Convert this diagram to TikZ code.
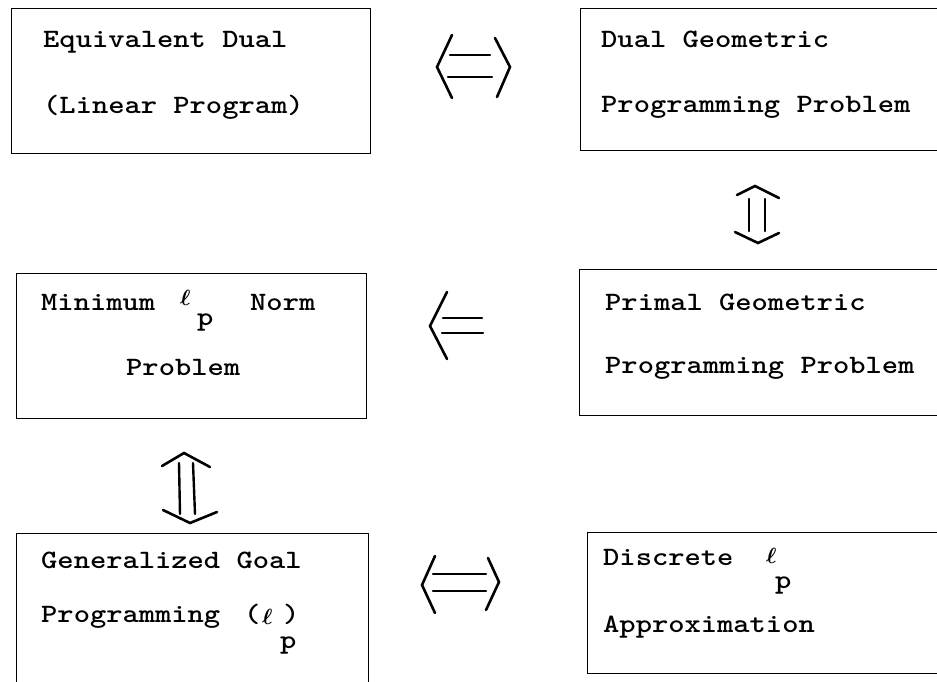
\documentclass[tikz,border=0pt]{standalone}
\usepackage{fontspec}
\usepackage{graphicx}
% typewriter text, widened to the pitch of the original typescript
\newcommand{\tw}[1]{\scalebox{1.17}[1]{#1}}
% script ell used in the l_p labels
\newcommand{\ellp}{\scalebox{2.2}{\boldmath$\ell$}}
\tikzset{
  box/.style={draw, line width=1.2pt, inner sep=0pt, anchor=north west},
  txt/.style={anchor=base west, inner sep=0pt, font=\ttfamily\bfseries\fontsize{26.5}{30}\selectfont},
  ell/.style={anchor=base west, inner sep=0pt},
  sym/.style={line width=2.6pt, line cap=round, line join=miter},
  bar/.style={line width=2.4pt, line cap=round},
}
\begin{document}
\begin{tikzpicture}[x=1pt,y=-1pt]
\useasboundingbox (0,0) rectangle (937,681);
\clip (0,0) rectangle (937,681);

% ---- boxes ----
\node[box, minimum width=359pt, minimum height=145pt] (b1) at (11,8) {};
\node[box, minimum width=370pt, minimum height=142pt] (b2) at (580,8) {};
\node[box, minimum width=350pt, minimum height=145pt] (b3) at (16,273) {};
\node[box, minimum width=370pt, minimum height=146pt] (b4) at (579,269) {};
\node[box, minimum width=352pt, minimum height=160pt] (b5) at (16,533) {};
\node[box, minimum width=362pt, minimum height=141pt] (b6) at (587,532) {};

% ---- box texts ----
\node[txt] (t1a) at (43,47)  {\tw{Equivalent Dual}};
\node[txt] (t1b) at (43,113) {\tw{(Linear Program)}};

\node[txt] (t2a) at (601,47)  {\tw{Dual Geometric}};
\node[txt] (t2b) at (601,112) {\tw{Programming Problem}};

\node[txt] (t3a) at (41,310)  {\tw{Minimum}};
\node[ell] (l3)  at (180,305) {\ellp};
\node[txt] (p3)  at (197,325) {\tw{p}};
\node[txt] (t3c) at (250,310) {\tw{Norm}};
\node[txt] (t3b) at (126,375) {\tw{Problem}};

\node[txt] (t4a) at (605,310) {\tw{Primal Geometric}};
\node[txt] (t4b) at (605,373) {\tw{Programming Problem}};

\node[txt] (t5a) at (41,568) {\tw{Generalized Goal}};
\node[txt] (t5b) at (41,622) {\tw{Programming}};
\node[txt] (o5)  at (244,622) {\tw{(}};
\node[ell] (l5)  at (262,624) {\ellp};
\node[txt] (c5)  at (283,622) {\tw{)}};
\node[txt] (p5)  at (280,648) {\tw{p}};

\node[txt] (t6a) at (603,565) {\tw{Discrete}};
\node[ell] (l6)  at (766,563) {\ellp};
\node[txt] (p6)  at (775,588) {\tw{p}};
\node[txt] (t6b) at (603,632) {\tw{Approximation}};

% ---- implication symbols between the boxes ----
% b1 <=> b2
\draw[sym] (452,35) -- (437,67) -- (452,98);
\draw[sym] (495,38) -- (510,67) -- (497,97);
\draw[bar] (450,55) -- (490,55);
\draw[bar] (448,77) -- (492,77);

% b2 <=> b4 (vertical)
\draw[sym] (737,195) -- (755,186) -- (779,198);
\draw[sym] (735,232) -- (758,243) -- (779,233);
\draw[bar] (749,199) -- (749,231);
\draw[bar] (765,199) -- (765,231);

% b3 <= b4
\draw[sym] (447,292) -- (430,326) -- (447,359);
\draw[bar] (443,318) -- (482,318);
\draw[bar] (442,333) -- (483,333);

% b3 <=> b5 (vertical)
\draw[sym] (162,466) -- (184,453) -- (210,467);
\draw[sym] (163,510) -- (190,523) -- (217,512);
\draw[bar] (179,463) -- (180,514);
\draw[bar] (193,463) -- (195,514);

% b5 <=> b6
\draw[sym] (435,556) -- (422,585) -- (435,613);
\draw[sym] (488,558) -- (499,582) -- (486,610);
\draw[bar] (433,574) -- (486,574);
\draw[bar] (433,591) -- (486,591);
\end{tikzpicture}
\end{document}
